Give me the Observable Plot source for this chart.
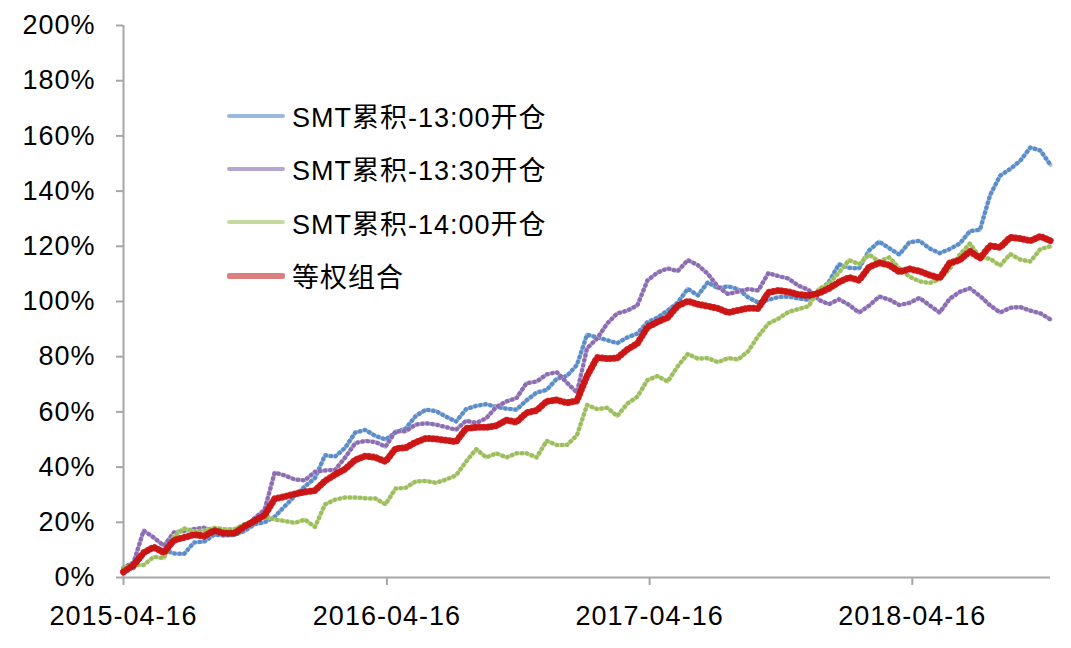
<!DOCTYPE html>
<html><head><meta charset="utf-8">
<script src="https://cdn.jsdelivr.net/npm/d3@7"></script>
<script src="https://cdn.jsdelivr.net/npm/@observablehq/plot@0.6"></script>
<style>
body{margin:0;background:#fff;}
#wrap{position:relative;width:1071px;height:648px;}
#legend{position:absolute;left:227px;top:89px;font-family:"Liberation Sans","Noto Sans CJK SC",sans-serif;font-size:27px;letter-spacing:1px;color:#000;}
.item{display:flex;align-items:center;height:53.3px;white-space:nowrap;}
.sw{width:58px;height:4px;margin-right:7px;border-radius:2px;}
</style>
</head><body>
<div id="wrap"><div id="chart"></div><div id="legend"></div></div>
<script>
const dates = [
"2015-04-16","2015-04-30","2015-05-14","2015-05-28","2015-06-11","2015-06-25","2015-07-09","2015-07-23","2015-08-06","2015-08-20","2015-09-03","2015-09-17","2015-10-01","2015-10-15","2015-10-29","2015-11-12","2015-11-26","2015-12-10","2015-12-24",
"2016-01-07","2016-01-21","2016-02-04","2016-02-18","2016-03-03","2016-03-17","2016-03-31","2016-04-14","2016-04-28","2016-05-12","2016-05-26","2016-06-09","2016-06-23","2016-07-07","2016-07-21","2016-08-04","2016-08-18","2016-09-01","2016-09-15","2016-09-29","2016-10-13","2016-10-27","2016-11-10","2016-11-24","2016-12-08","2016-12-22",
"2017-01-05","2017-01-19","2017-02-02","2017-02-16","2017-03-02","2017-03-16","2017-03-30","2017-04-13","2017-04-27","2017-05-11","2017-05-25","2017-06-08","2017-06-22","2017-07-06","2017-07-20","2017-08-03","2017-08-17","2017-08-31","2017-09-14","2017-09-28","2017-10-12","2017-10-26","2017-11-09","2017-11-23","2017-12-07","2017-12-21",
"2018-01-04","2018-01-18","2018-02-01","2018-02-15","2018-03-01","2018-03-15","2018-03-29","2018-04-12","2018-04-26","2018-05-10","2018-05-24","2018-06-07","2018-06-21","2018-07-05","2018-07-19","2018-08-02","2018-08-16","2018-08-30","2018-09-13","2018-09-27","2018-10-11","2018-10-25"];

const smt1300 = [3,3.5,8.5,11,10,8.7,8.5,12.7,13,15.5,15.2,15.4,16.8,19.3,20,22,25.8,29.5,33,36,44.3,43.8,47,52.5,53.5,51.3,50,52.5,54,58.5,60.8,60.3,58.3,56.5,61,62.2,62.8,61.8,61.2,60.8,64.2,67,68,72,73,77,88,87,86,84.9,87,88.4,92.5,94.2,96.7,99.6,104.6,102.2,107,104.8,105.5,104.5,101.5,99.6,100.6,101.6,101.8,101.1,100.6,103.5,107,113.5,112.2,112,118.5,121.7,119.3,117,121.5,122,119.2,117.5,119,121,125.5,126,138.5,145.6,148,151,155.8,154.7,149.5];
const smt1330 = [3.5,5.5,17,14.5,11.5,16.3,16.8,17.6,18,16.8,16,16,17.8,21.5,24.5,38,37,35.5,35.2,38.3,38.8,39,43.5,48.7,49.5,49.1,47.4,53,53,55.4,55.9,55.4,54.5,53.5,56.8,56,57.7,61.8,63.8,65,70.4,71,73.6,74.4,70.6,67,83,86.6,92,95.7,96.7,98.6,107.6,110.5,112,111,115,113.2,110,105.3,102.7,103.6,104.5,104,110.3,109.2,108.3,105.7,104.2,100.6,99,100.8,98.8,96,98.5,101.8,100.7,98.7,99.5,101.3,98.6,96,101,103.5,104.8,102,98.6,96,97.7,98,96.7,95.7,93.5];
const smt1400 = [3.5,4.5,4.5,7.5,7,15,17.8,16.7,17,18,17.5,17.5,19.3,20.4,22.3,21,20.5,19.8,21,18.3,26.5,28.2,29,29,28.7,28.6,26.5,32.2,32.5,34.8,35,34.3,35.5,37,42,46.5,43.5,45,43.5,45,45,43.5,49.5,48,48,51.5,62.5,61,61.5,58.5,63,65.5,71.5,73,71,76.5,81,79.3,79.5,78,79.5,79,82,87.5,92,93.8,96.2,97.3,98.3,104.5,106.4,110.5,115,113.5,117,114.5,116,112,109,107.3,106.7,108,111.8,117,121,116,115.5,113,117.2,115.2,114.5,119,120];
const equalWeight = [2,4.5,9,11,9,13.5,14.5,15.5,15,17,16,16,18.5,20.5,22.5,28.5,29.3,30.3,31,31.5,35,37.3,39.3,42.6,44,43.5,42,46.7,47,49,50.4,50.2,49.7,49.2,54,54.4,54.4,55,57,56.3,59.7,60.5,63.8,64.3,63.3,64,73,79.7,79.3,79.5,82.6,84.8,90.7,92.6,94.2,98.4,100.1,99,98.3,97.5,96,96.8,97.6,97.5,103.3,104,103.5,102.5,102.2,103,104.7,107,108.7,107.7,112.5,114,113.2,110.7,111.8,111,109.6,108.5,114,115,118.2,115.7,120.2,119.6,123.2,122.8,122,123.6,122];

const seriesNames = ["SMT累积-13:00开仓","SMT累积-13:30开仓","SMT累积-14:00开仓","等权组合"];
const yTicks = [0,20,40,60,80,100,120,140,160,180,200];
const xTicks = ["2015-04-16","2016-04-16","2017-04-16","2018-04-16"];
const xDomain = ["2015-04-16","2018-10-25"];

const parse = d3.utcParse("%Y-%m-%d");
const styles = [
  {light:"#9ab9de", dark:"#4f84c4", w:4, dw:4.5, dash:"0.1,5"},
  {light:"#b6a5cf", dark:"#8462ad", w:4, dw:4.5, dash:"0.1,5"},
  {light:"#c4da9f", dark:"#94b950", w:4, dw:4.5, dash:"0.1,5"},
  {light:"#de7f7f", dark:"#c80000", w:5, dw:7, dash:"0.1,4"}
];
const valueArrays = [smt1300, smt1330, smt1400, equalWeight];

const marks = [
  Plot.ruleY([0], {stroke:"#a6a6a6", strokeWidth:2}),
  Plot.ruleX([parse(xDomain[0])], {stroke:"#a6a6a6", strokeWidth:2}),
  Plot.axisY({ticks: yTicks, tickSize: 7, tickPadding: 21, tickFormat: d => d + "%", stroke:"#a6a6a6", strokeWidth:2, fill:"#000", label: null}),
  Plot.axisX({ticks: xTicks.map(parse), tickSize: 8, tickPadding: 20, tickFormat: d3.utcFormat("%Y-%m-%d"), stroke:"#a6a6a6", strokeWidth:2, fill:"#000", label: null})
];
valueArrays.forEach((vals, k) => {
  const rows = dates.map((d, i) => ({date: parse(d), value: vals[i]}));
  const s = styles[k];
  marks.push(Plot.line(rows, {x:"date", y:"value", stroke:s.light, strokeWidth:s.w, strokeOpacity:0.9}));
  marks.push(Plot.line(rows, {x:"date", y:"value", stroke:s.dark, strokeWidth:s.dw, strokeDasharray:s.dash, strokeLinecap:"round", strokeOpacity:0.85}));
});

const chart = Plot.plot({
  width: 1071, height: 648,
  marginLeft: 123, marginRight: 21, marginTop: 25, marginBottom: 71,
  style: {fontFamily: '"Liberation Sans", Arial, sans-serif', fontSize: "27px", letterSpacing: "1px", color: "#000", background: "#fff", overflow: "visible"},
  x: {type: "utc", domain: xDomain.map(parse), label: null},
  y: {domain: [0, 200], label: null},
  marks
});
document.getElementById("chart").appendChild(chart);

const legend = document.getElementById("legend");
seriesNames.forEach((name, k) => {
  const item = document.createElement("div");
  item.className = "item";
  const sw = document.createElement("span");
  sw.className = "sw";
  sw.style.background = styles[k].light;
  if (k === 3) sw.style.height = "6px";
  const t = document.createElement("span");
  t.textContent = name;
  item.appendChild(sw); item.appendChild(t);
  legend.appendChild(item);
});
</script>
</body></html>
